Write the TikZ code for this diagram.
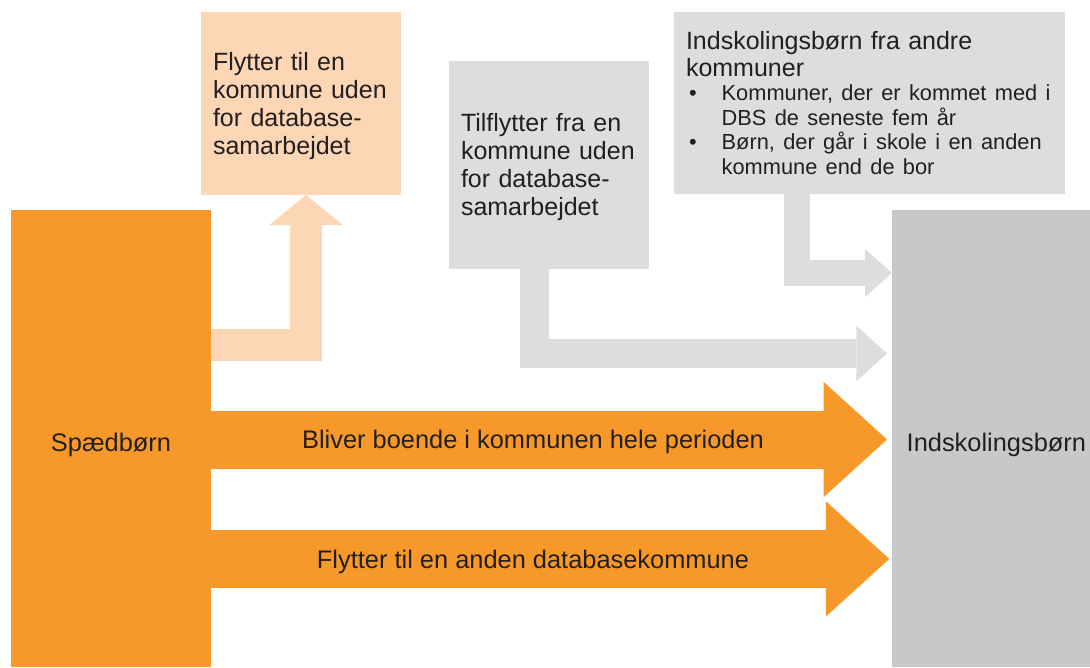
\documentclass[tikz,border=0pt]{standalone}
\usepackage{fontspec}
\setmainfont{Liberation Sans}
\usetikzlibrary{arrows.meta,positioning,calc}
\definecolor{spaedorange}{HTML}{F7982B}
\definecolor{peach}{HTML}{FCD6B5}
\definecolor{lightgrey}{HTML}{DCDDDE}
\definecolor{darkgrey}{HTML}{C7C8CA}
\definecolor{txt}{HTML}{231F20}

\begin{document}
\begin{tikzpicture}[x=1pt, y=-1pt,
  box/.style={inner sep=0pt, outer sep=0pt, anchor=north west, text=txt,
    font=\fontsize{25}{28}\selectfont},
  textbox/.style={box, align=left, inner xsep=12pt, text width=#1-24pt, minimum width=#1},
  bigbox/.style={box, minimum width=#1, minimum height=457pt, text height=26.4pt, text depth=0pt,
    font=\fontsize{25.4}{28}\selectfont},
  flowlabel/.style={anchor=base, text=txt, font=\fontsize{25.4}{28}\selectfont},
  bigflow/.style={draw=spaedorange, line width=58pt,
    -{Triangle[length=63.5pt, width=115.5pt, line width=0pt]}},
  peachflow/.style={draw=peach, line width=32pt,
    -{Triangle[length=30pt, width=73.5pt, line width=0pt]}},
  greyflow/.style={draw=lightgrey, line width=#1},
]
\useasboundingbox (0,0) rectangle (1090,667);

% --- start and end ---
\node[bigbox=200pt, fill=spaedorange, align=center, text width=200pt] (spaed) at (11,210) {Spædbørn};
\node[bigbox=198pt, fill=darkgrey, align=left, inner xsep=14.7pt, text width=168.6pt] (indsk) at (892,210) {Indskolingsbørn};

% --- side boxes ---
\node[textbox=200pt, fill=peach, minimum height=183pt, text height=20pt, text depth=87pt]
  (flyt) at (201,12) {Flytter til en\\kommune uden\\for database-\\samarbejdet};
\node[textbox=200pt, fill=lightgrey, minimum height=208pt, text height=20pt, text depth=87pt]
  (tilfl) at (449,61) {Tilflytter fra en\\kommune uden\\for database-\\samarbejdet};
\node[textbox=391pt, fill=lightgrey, minimum height=182pt] (andre) at (674,12) {%
  {\fontsize{25}{27}\selectfont \mbox{Indskolingsbørn fra andre}\\kommuner\par}
  {\fontsize{21.8}{24.5}\selectfont
  \mbox{\makebox[35.7pt][l]{\hspace{3pt}•}Kommuner, der er kommet med i}\\
  \mbox{\hspace*{35.7pt}DBS de seneste fem år}\\
  \mbox{\makebox[35.7pt][l]{\hspace{3pt}•}Børn, der går i skole i en anden}\\
  \mbox{\hspace*{35.7pt}kommune end de bor}\par}};

% --- flows ---
\draw[peachflow] ([yshift=93.5pt]spaed.east) -| ([xshift=5pt]flyt.south);
\draw[greyflow=29.5pt, -{Triangle[length=30.7pt, width=55.7pt, line width=0pt]}, shorten >=5pt]
  ([xshift=-14.3pt]tilfl.south) |- ([yshift=85pt]indsk.west);
\draw[greyflow=26.7pt, -{Triangle[length=27pt, width=47.7pt, line width=0pt]}]
  ([xshift=-72.5pt]andre.south) |- ([yshift=165.5pt]indsk.west);
\draw[bigflow, shorten >=5pt] ([yshift=-1pt]spaed.east) -- ([yshift=-1pt]indsk.west);
\draw[bigflow, shorten >=2.7pt] ([yshift=-120.4pt]spaed.east) -- ([yshift=-120.4pt]indsk.west);

% --- flow labels ---
\node[flowlabel] (staylab) at (533,448.3) {Bliver boende i kommunen hele perioden};
\node[flowlabel] (movelab) at (533,568.3) {Flytter til en anden databasekommune};
\end{tikzpicture}
\end{document}
